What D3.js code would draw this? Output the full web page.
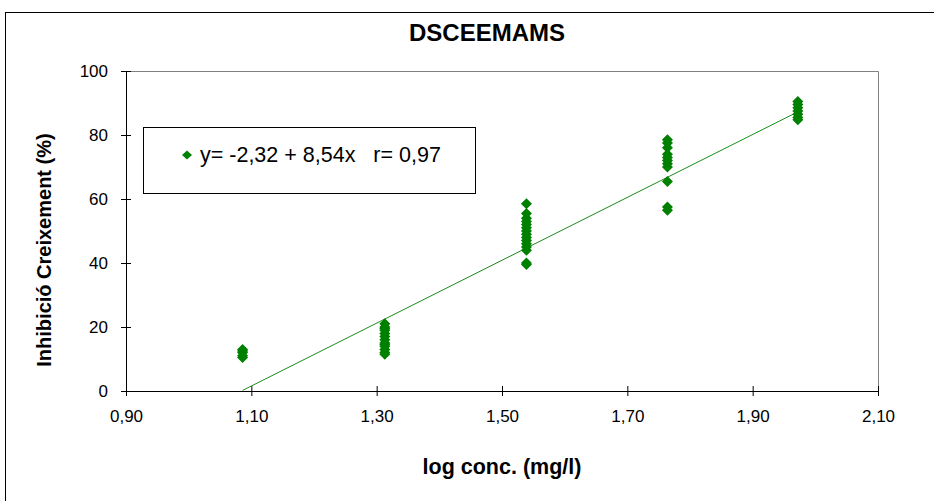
<!DOCTYPE html>
<html><head><meta charset="utf-8">
<script src="https://cdn.jsdelivr.net/npm/d3@7"></script>
<style>body{margin:0;background:#fff}svg{display:block;font-family:"Liberation Sans",Arial,sans-serif}</style>
</head><body><svg id="c" width="934" height="501"></svg>
<script>
const title = "DSCEEMAMS";
const xLabel = "log conc. (mg/l)";
const yLabel = "Inhibició Creixement (%)";
const legendText = "y= -2,32 + 8,54x   r= 0,97";
const xTicks = [0.9, 1.1, 1.3, 1.5, 1.7, 1.9, 2.1];
const yTicks = [0, 20, 40, 60, 80, 100];
const doseX = [1.086, 1.313, 1.539, 1.764, 1.972];
const groupValues = [
  [13, 12.5, 12, 11, 10.5],
  [21, 20, 19.5, 19, 18, 17, 16, 15, 14.5, 14, 13, 12, 11.5],
  [58.5, 55.5, 54, 53, 52, 51, 50, 49, 48, 47, 46, 45, 44, 40, 39.5],
  [78.5, 77.5, 76, 74, 73, 72, 71, 70, 65.5, 57.5, 56.5],
  [90.5, 89.5, 88.5, 87.5, 86.5, 85.5, 84.8]
];
const trendIntercept = -106.5;
const trendSlope = 98.24;

const svg = d3.select("#c");
const M = {l:126, r:878, t:71, b:391};
const x = d3.scaleLinear().domain([0.9, 2.1]).range([M.l, M.r]);
const y = d3.scaleLinear().domain([0, 100]).range([M.b, M.t]);
const fmt = d => d.toFixed(2).replace(".", ",");
const green = "#008000";

// outer chart border
svg.append("rect").attr("x",5.5).attr("y",12.5).attr("width",940).attr("height",520)
  .attr("fill","none").attr("stroke","#000").attr("stroke-width",1);

// plot area border (top & right)
svg.append("path").attr("d",`M${M.l},${M.t+0.5}H${M.r+0.5}V${M.b}`)
  .attr("fill","none").attr("stroke","#808080").attr("stroke-width",1);

// title
svg.append("text").attr("x",487).attr("y",41).attr("text-anchor","middle")
  .attr("font-size",24).attr("font-weight","bold").text(title);

// axes
const xAxis = d3.axisBottom(x).tickValues(xTicks).tickFormat(fmt).tickSizeInner(5).tickSizeOuter(0).tickPadding(14);
const gx = svg.append("g").attr("transform",`translate(0,${M.b})`).call(xAxis);
gx.selectAll(".tick line").attr("y1",-5).attr("y2",5);
const yAxis = d3.axisLeft(y).tickValues(yTicks).tickFormat(d3.format("d")).tickSizeInner(5).tickSizeOuter(0).tickPadding(13);
const gy = svg.append("g").attr("transform",`translate(${M.l},0)`).call(yAxis);
gy.selectAll(".tick line").attr("x1",-5).attr("x2",5);
[gx, gy].forEach(g => {
  g.select(".domain").attr("stroke","#000");
  g.selectAll(".tick line").attr("stroke","#000");
  g.selectAll("text").attr("font-size",17).attr("fill","#000").attr("font-family","Liberation Sans, Arial, sans-serif");
});

// axis labels
svg.append("text").attr("x",502).attr("y",474).attr("text-anchor","middle")
  .attr("font-size",21.5).attr("font-weight","bold").text(xLabel);
svg.append("text").attr("transform",`translate(51,250) rotate(-90)`).attr("text-anchor","middle")
  .attr("font-size",20).attr("font-weight","bold").text(yLabel);

// trend line
const xmin = d3.min(doseX), xmax = d3.max(doseX);
const x0 = Math.max(xmin, -trendIntercept/trendSlope);
svg.append("line")
  .attr("x1",x(x0)).attr("y1",y(trendIntercept+trendSlope*x0))
  .attr("x2",x(xmax)).attr("y2",y(trendIntercept+trendSlope*xmax))
  .attr("stroke","#1a8c1a").attr("stroke-width",1);

// points
const pts = [];
doseX.forEach((dx,i) => groupValues[i].forEach(v => pts.push([dx, v])));
const diamond = "M0,-5.5L5.5,0L0,5.5L-5.5,0Z";
svg.append("g").selectAll("path").data(pts).join("path")
  .attr("transform",d=>`translate(${x(d[0])},${y(d[1])})`)
  .attr("d",diamond).attr("fill",green);

// legend
svg.append("rect").attr("x",143.5).attr("y",127.5).attr("width",332).attr("height",66)
  .attr("fill","#fff").attr("stroke","#000");
svg.append("path").attr("transform","translate(187,155)").attr("d","M0,-4.5L5,0L0,4.5L-5,0Z").attr("fill",green);
svg.append("text").attr("x",200).attr("y",162).attr("font-size",21.5).attr("xml:space","preserve")
  .style("white-space","pre").text(legendText);
</script>
</body></html>
